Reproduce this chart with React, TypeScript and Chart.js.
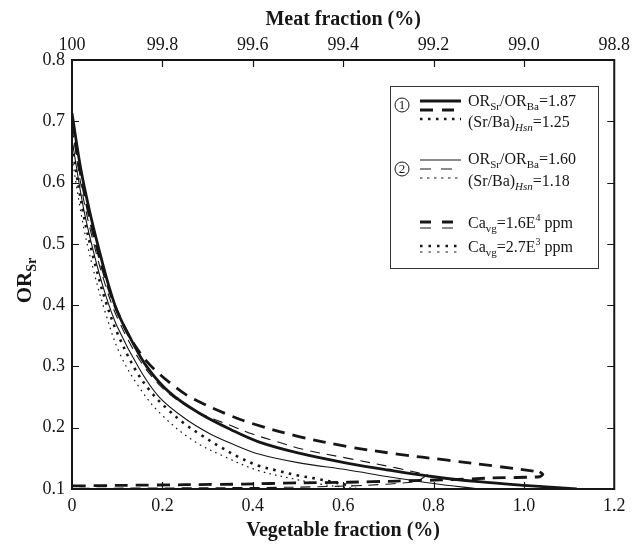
import React, { useEffect, useRef } from "react";
import { Chart, registerables } from "chart.js";

Chart.register(...registerables);

// ---- axis ticks ----
const vegTicks = [0, 0.2, 0.4, 0.6, 0.8, 1.0, 1.2];
const vegLabels = ["0", "0.2", "0.4", "0.6", "0.8", "1.0", "1.2"];
const meatLabels = ["100", "99.8", "99.6", "99.4", "99.2", "99.0", "98.8"];
const orTicks = [0.1, 0.2, 0.3, 0.4, 0.5, 0.6, 0.7, 0.8];
const orLabels = ["0.1", "0.2", "0.3", "0.4", "0.5", "0.6", "0.7", "0.8"];

// ---- curves (x = vegetable fraction %, y = OR_Sr) ----
// case 1, solid (thick)
const c1SolidX = [0, 0.02, 0.04, 0.06, 0.08, 0.1, 0.13, 0.165, 0.215, 0.281, 0.354, 0.413, 0.5, 0.611, 0.7, 0.8, 0.9, 1.0, 1.117];
const c1SolidY = [0.713, 0.62, 0.55, 0.49, 0.435, 0.39, 0.345, 0.3, 0.258, 0.224, 0.196, 0.177, 0.159, 0.142, 0.131, 0.12, 0.112, 0.106, 0.1];
// case 1, dashed (thick) – outgoing branch
const c1DashX = [0, 0.02, 0.04, 0.06, 0.08, 0.1, 0.13, 0.16, 0.187, 0.231, 0.266, 0.343, 0.398, 0.5, 0.611, 0.72, 0.831, 0.94, 1.035];
const c1DashY = [0.70, 0.61, 0.54, 0.48, 0.43, 0.39, 0.345, 0.313, 0.292, 0.265, 0.248, 0.222, 0.207, 0.186, 0.169, 0.157, 0.147, 0.137, 0.128];
// case 1, dashed (thick) – return branch
const c1DashRetX = [1.035, 1.042, 1.035, 0.93, 0.83, 0.72, 0.611, 0.5, 0.38, 0.25, 0.12, 0];
const c1DashRetY = [0.128, 0.124, 0.12, 0.118, 0.115, 0.113, 0.111, 0.11, 0.108, 0.107, 0.106, 0.105];
// case 1, dotted (thick)
const c1DotX = [0, 0.025, 0.05, 0.075, 0.1, 0.14, 0.175, 0.209, 0.248, 0.288, 0.325, 0.369, 0.413, 0.46, 0.5, 0.54, 0.58, 0.62];
const c1DotY = [0.66, 0.55, 0.47, 0.405, 0.355, 0.295, 0.258, 0.232, 0.207, 0.187, 0.17, 0.152, 0.138, 0.129, 0.122, 0.117, 0.111, 0.105];
// case 2, solid (thin)
const c2SolidX = [0, 0.025, 0.05, 0.075, 0.1, 0.15, 0.193, 0.25, 0.303, 0.35, 0.413, 0.5, 0.611, 0.7, 0.8, 0.9];
const c2SolidY = [0.67, 0.56, 0.48, 0.415, 0.365, 0.295, 0.25, 0.215, 0.191, 0.175, 0.157, 0.143, 0.131, 0.12, 0.109, 0.1];
// case 2, dashed (thin)
const c2DashX = [0, 0.025, 0.05, 0.075, 0.1, 0.15, 0.2, 0.25, 0.3, 0.35, 0.398, 0.45, 0.516, 0.611, 0.72, 0.787];
const c2DashY = [0.69, 0.575, 0.495, 0.43, 0.38, 0.31, 0.265, 0.237, 0.218, 0.204, 0.19, 0.178, 0.164, 0.15, 0.134, 0.123];
const c2DashRetX = [0.787, 0.76, 0.65, 0.5, 0.3, 0];
const c2DashRetY = [0.123, 0.112, 0.106, 0.103, 0.102, 0.101];
// case 2, dotted (thin)
const c2DotX = [0, 0.025, 0.05, 0.075, 0.105, 0.145, 0.193, 0.266, 0.34, 0.413, 0.5, 0.55, 0.6, 0.65];
const c2DotY = [0.64, 0.53, 0.45, 0.385, 0.322, 0.27, 0.225, 0.18, 0.152, 0.13, 0.115, 0.108, 0.103, 0.1];

const INK = "#161616";
const SERIF = "'Liberation Serif', 'Times New Roman', serif";

function pts(xs: number[], ys: number[]) {
  return xs.map((x, i) => ({ x, y: ys[i] }));
}

function ds(xs: number[], ys: number[], width: number, dash: number[], tension = 0.35) {
  return {
    data: pts(xs, ys),
    showLine: true,
    borderColor: INK,
    backgroundColor: INK,
    borderWidth: width,
    borderDash: dash,
    pointRadius: 0,
    tension,
    fill: false,
    xAxisID: "x",
    yAxisID: "y",
  };
}

type Seg = { t: string; size: number; dy?: number; italic?: boolean; bold?: boolean };

function richText(ctx: CanvasRenderingContext2D, x: number, y: number, segs: Seg[]) {
  let cx = x;
  for (const s of segs) {
    ctx.font = `${s.italic ? "italic " : ""}${s.bold ? "bold " : ""}${s.size}px ${SERIF}`;
    ctx.fillText(s.t, cx, y + (s.dy || 0));
    cx += ctx.measureText(s.t).width;
  }
  return cx - x;
}

function measureRich(ctx: CanvasRenderingContext2D, segs: Seg[]) {
  let w = 0;
  for (const s of segs) {
    ctx.font = `${s.italic ? "italic " : ""}${s.bold ? "bold " : ""}${s.size}px ${SERIF}`;
    w += ctx.measureText(s.t).width;
  }
  return w;
}

function hline(ctx: CanvasRenderingContext2D, x0: number, x1: number, y: number, w: number, dash: number[]) {
  ctx.save();
  ctx.strokeStyle = INK;
  ctx.lineWidth = w;
  ctx.setLineDash(dash);
  ctx.beginPath();
  ctx.moveTo(x0, y);
  ctx.lineTo(x1, y);
  ctx.stroke();
  ctx.restore();
}

function circled(ctx: CanvasRenderingContext2D, cx: number, cy: number, label: string) {
  ctx.save();
  ctx.strokeStyle = INK;
  ctx.lineWidth = 1;
  ctx.beginPath();
  ctx.arc(cx, cy, 7, 0, Math.PI * 2);
  ctx.stroke();
  ctx.fillStyle = INK;
  ctx.font = `13px ${SERIF}`;
  ctx.textAlign = "center";
  ctx.textBaseline = "middle";
  ctx.fillText(label, cx, cy + 0.5);
  ctx.restore();
}

const decorPlugin = {
  id: "decor",
  afterDraw(chart: any) {
    const ctx: CanvasRenderingContext2D = chart.ctx;
    const a = chart.chartArea;
    const xs = chart.scales.x;
    const ys = chart.scales.y;
    ctx.save();
    // frame
    ctx.strokeStyle = INK;
    ctx.lineWidth = 2;
    ctx.setLineDash([]);
    ctx.strokeRect(a.left, a.top, a.right - a.left, a.bottom - a.top);
    // inward ticks
    ctx.lineWidth = 1.2;
    const TL = 7;
    ctx.beginPath();
    vegTicks.forEach((v) => {
      const px = Math.round(xs.getPixelForValue(v)) + 0.5;
      if (px <= a.left + 2 || px >= a.right - 2) return;
      ctx.moveTo(px, a.bottom);
      ctx.lineTo(px, a.bottom - TL);
      ctx.moveTo(px, a.top);
      ctx.lineTo(px, a.top + TL);
    });
    orTicks.forEach((v) => {
      const py = Math.round(ys.getPixelForValue(v)) + 0.5;
      if (py <= a.top + 2 || py >= a.bottom - 2) return;
      ctx.moveTo(a.left, py);
      ctx.lineTo(a.left + TL, py);
      ctx.moveTo(a.right, py);
      ctx.lineTo(a.right - TL, py);
    });
    ctx.stroke();

    // axis titles
    ctx.fillStyle = INK;
    ctx.textAlign = "center";
    ctx.textBaseline = "middle";
    ctx.font = `bold 20px ${SERIF}`;
    const midX = (a.left + a.right) / 2;
    ctx.fillText("Meat fraction (%)", midX, 20);
    ctx.fillText("Vegetable fraction (%)", midX, 531);

    // y title OR_Sr rotated
    ctx.save();
    ctx.textAlign = "left";
    ctx.textBaseline = "alphabetic";
    const ySegs: Seg[] = [
      { t: "OR", size: 21, bold: true },
      { t: "Sr", size: 14, bold: true, dy: 5 },
    ];
    const yw = measureRich(ctx, ySegs);
    ctx.translate(31, (a.top + a.bottom) / 2 + yw / 2 + 6);
    ctx.rotate(-Math.PI / 2);
    richText(ctx, 0, 0, ySegs);
    ctx.restore();

    // legend box
    ctx.save();
    ctx.fillStyle = "#ffffff";
    ctx.fillRect(390, 86, 208, 182);
    ctx.strokeStyle = "#333";
    ctx.lineWidth = 1;
    ctx.strokeRect(390.5, 86.5, 208, 182);
    const L0 = 420, L1 = 461, LD = 454, TX = 468;
    // group 1
    circled(ctx, 402, 105, "1");
    hline(ctx, L0, L1, 101, 3, []);
    hline(ctx, L0, LD, 110, 3, [13, 9]);
    hline(ctx, L0, L1, 119, 2.5, [2.5, 5.5]);
    // group 2
    circled(ctx, 402, 169, "2");
    hline(ctx, L0, L1, 160, 1, []);
    hline(ctx, L0, LD, 169, 1, [11, 10]);
    hline(ctx, L0, L1, 178, 1, [2.5, 4.5]);
    // Ca rows
    hline(ctx, L0, LD, 222, 3, [11, 11]);
    hline(ctx, L0, LD, 228, 1, [11, 11]);
    hline(ctx, L0, L1, 246, 2.5, [2.5, 6]);
    hline(ctx, L0, L1, 252, 1, [2.5, 6]);

    ctx.fillStyle = INK;
    ctx.textAlign = "left";
    ctx.textBaseline = "alphabetic";
    const orRatio = (val: string): Seg[] => [
      { t: "OR", size: 16 },
      { t: "Sr", size: 11, dy: 4 },
      { t: "/OR", size: 16 },
      { t: "Ba", size: 11, dy: 4 },
      { t: "=" + val, size: 16 },
    ];
    const srBa = (val: string): Seg[] => [
      { t: "(Sr/Ba)", size: 16 },
      { t: "Hsn", size: 11, dy: 4, italic: true },
      { t: "=" + val, size: 16 },
    ];
    richText(ctx, TX, 106, orRatio("1.87"));
    richText(ctx, TX, 127, srBa("1.25"));
    richText(ctx, TX, 164, orRatio("1.60"));
    richText(ctx, TX, 186, srBa("1.18"));
    richText(ctx, TX, 228, [
      { t: "Ca", size: 16 },
      { t: "vg", size: 11, dy: 4 },
      { t: "=1.6E", size: 16 },
      { t: "4", size: 10, dy: -7 },
      { t: " ppm", size: 16 },
    ]);
    richText(ctx, TX, 252, [
      { t: "Ca", size: 16 },
      { t: "vg", size: 11, dy: 4 },
      { t: "=2.7E", size: 16 },
      { t: "3", size: 10, dy: -7 },
      { t: " ppm", size: 16 },
    ]);
    ctx.restore();
    ctx.restore();
  },
};

export default function App() {
  const ref = useRef<HTMLCanvasElement | null>(null);

  useEffect(() => {
    document.body.style.margin = "0";
    const canvas = ref.current;
    if (!canvas) return;
    const tickFont = { family: SERIF, size: 18 };
    const chart = new Chart(canvas, {
      type: "scatter",
      data: {
        datasets: [
          ds(c2DotX, c2DotY, 1.2, [1.6, 4.2]),
          ds(c1DotX, c1DotY, 2.6, [2.6, 5.4]),
          ds(c2SolidX, c2SolidY, 1.1, []),
          ds(c2DashX, c2DashY, 1.1, [10, 7]),
          ds(c2DashRetX, c2DashRetY, 1.1, [10, 7], 0.2),
          ds(c1SolidX, c1SolidY, 2.8, []),
          ds(c1DashX, c1DashY, 2.8, [13, 8]),
          ds(c1DashRetX, c1DashRetY, 2.8, [13, 8], 0.2),
        ] as any,
      },
      options: {
        animation: false,
        responsive: true,
        maintainAspectRatio: false,
        layout: { padding: { left: 0, right: 16, top: 0, bottom: 0 } },
        plugins: {
          legend: { display: false },
          tooltip: { enabled: false },
          title: { display: false },
        },
        scales: {
          x: {
            type: "linear",
            position: "bottom",
            min: 0,
            max: 1.2,
            afterBuildTicks: (s: any) => {
              s.ticks = vegTicks.map((v) => ({ value: v }));
            },
            afterFit: (s: any) => {
              s.height = 58;
            },
            ticks: {
              font: tickFont,
              color: INK,
              padding: 6,
              maxRotation: 0,
              autoSkip: false,
              callback: (_v: any, i: number) => vegLabels[i],
            },
            grid: { display: false, drawTicks: false },
            border: { display: false },
          },
          x2: {
            type: "linear",
            position: "top",
            min: 0,
            max: 1.2,
            afterBuildTicks: (s: any) => {
              s.ticks = vegTicks.map((v) => ({ value: v }));
            },
            afterFit: (s: any) => {
              s.height = 60;
            },
            ticks: {
              font: tickFont,
              color: INK,
              padding: 4,
              maxRotation: 0,
              autoSkip: false,
              callback: (_v: any, i: number) => meatLabels[i],
            },
            grid: { display: false, drawTicks: false },
            border: { display: false },
          },
          y: {
            type: "linear",
            position: "left",
            min: 0.1,
            max: 0.8,
            afterBuildTicks: (s: any) => {
              s.ticks = orTicks.map((v) => ({ value: v }));
            },
            afterFit: (s: any) => {
              s.width = 72;
            },
            ticks: {
              font: tickFont,
              color: INK,
              padding: 7,
              autoSkip: false,
              callback: (_v: any, i: number) => orLabels[i],
            },
            grid: { display: false, drawTicks: false },
            border: { display: false },
          },
        },
      } as any,
      plugins: [decorPlugin as any],
    });
    return () => chart.destroy();
  }, []);

  return (
    <div style={{ position: "absolute", left: 0, top: 0, width: 634, height: 547, background: "#fff" }}>
      <canvas ref={ref} />
    </div>
  );
}
